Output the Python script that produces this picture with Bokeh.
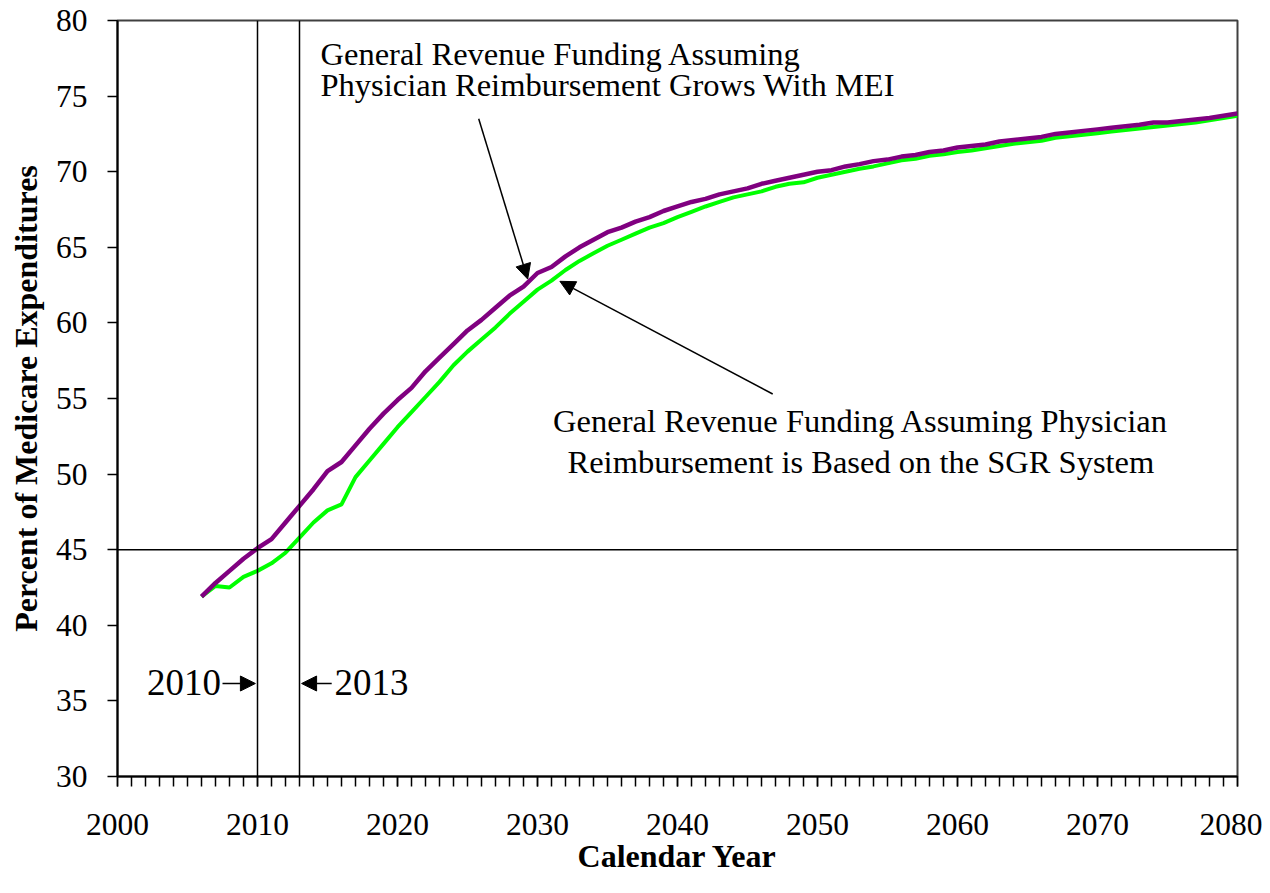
from bokeh.plotting import figure
from bokeh.models import Span, Arrow, NormalHead, Label, SingleIntervalTicker, Range1d
from bokeh.embed import file_html
from bokeh.resources import INLINE

years = list(range(2006, 2081))

mei_values = [41.9, 42.8, 43.6, 44.4, 45.1, 45.7, 46.8, 47.9, 49.0, 50.2,
              50.8, 51.9, 53.0, 54.0, 54.9, 55.7, 56.8, 57.7, 58.6, 59.5,
              60.2, 61.0, 61.8, 62.4, 63.3, 63.7, 64.4, 65.0, 65.5, 66.0,
              66.3, 66.7, 67.0, 67.4, 67.7, 68.0, 68.2, 68.5, 68.7, 68.9,
              69.2, 69.4, 69.6, 69.8, 70.0, 70.1, 70.35, 70.5, 70.7, 70.8,
              71.0, 71.1, 71.3, 71.4, 71.6, 71.7, 71.8, 72.0, 72.1, 72.2,
              72.3, 72.5, 72.6, 72.7, 72.8, 72.9, 73.0, 73.1, 73.25, 73.25,
              73.35, 73.45, 73.55, 73.7, 73.85]

sgr_values = [41.9, 42.6, 42.5, 43.2, 43.6, 44.1, 44.8, 45.8, 46.8, 47.6,
              48.0, 49.8, 50.9, 52.0, 53.1, 54.1, 55.1, 56.1, 57.2, 58.1,
              58.9, 59.7, 60.6, 61.4, 62.2, 62.8, 63.5, 64.1, 64.6, 65.1,
              65.5, 65.9, 66.3, 66.6, 67.0, 67.35, 67.7, 68.0, 68.3, 68.5,
              68.7, 69.0, 69.2, 69.3, 69.6, 69.8, 70.0, 70.2, 70.35, 70.55,
              70.75, 70.85, 71.05, 71.15, 71.3, 71.4, 71.55, 71.7, 71.85, 71.95,
              72.05, 72.25, 72.35, 72.45, 72.55, 72.65, 72.75, 72.85, 72.95, 73.05,
              73.15, 73.25, 73.4, 73.55, 73.7]

marker_years = [2010, 2013]
threshold = 45

label_mei = ["General Revenue Funding Assuming",
             "Physician Reimbursement Grows With MEI"]
label_sgr = ["General Revenue Funding Assuming Physician",
             "Reimbursement is Based on the SGR System"]

FONT = "Liberation Serif"

p = figure(width=1262, height=885, output_backend="svg", toolbar_location=None,
           x_range=Range1d(2000, 2080), y_range=Range1d(30, 80),
           min_border_left=117, min_border_right=25, min_border_top=20,
           min_border_bottom=109)

p.xgrid.visible = False
p.ygrid.visible = False
p.outline_line_color = "#404040"
p.outline_line_width = 2
p.background_fill_color = "white"
p.border_fill_color = "white"

# x axis
p.xaxis.ticker = SingleIntervalTicker(interval=10, num_minor_ticks=10)
p.xaxis.major_tick_out = 10
p.xaxis.major_tick_in = 0
p.xaxis.minor_tick_out = 10
p.xaxis.minor_tick_in = 0
p.xaxis.minor_tick_line_color = "black"
p.xaxis.minor_tick_line_width = 1.5
p.xaxis.major_label_standoff = 27
p.xaxis.axis_label = "Calendar Year"
p.xaxis.axis_label_standoff = 0

# y axis
p.yaxis.ticker = SingleIntervalTicker(interval=5, num_minor_ticks=0)
p.yaxis.major_tick_out = 10
p.yaxis.major_tick_in = 0
p.yaxis.minor_tick_line_color = None
p.yaxis.major_label_standoff = 20
p.yaxis.axis_label = "Percent of Medicare Expenditures"
p.yaxis.axis_label_standoff = 9

for axes in (p.xaxis, p.yaxis):
    axes.axis_line_color = "black"
    axes.axis_line_width = 2
    axes.major_tick_line_color = "black"
    axes.major_tick_line_width = 1.5
    axes.major_label_text_font = FONT
    axes.major_label_text_font_size = "31.5px"
    axes.major_label_text_font_style = "normal"
    axes.major_label_text_color = "black"
    axes.axis_label_text_font = FONT
    axes.axis_label_text_font_size = "32px"
    axes.axis_label_text_font_style = "bold"
    axes.axis_label_text_color = "black"

# reference lines
p.add_layout(Span(location=threshold, dimension="width", line_color="black", line_width=1.5))
for yr in marker_years:
    p.add_layout(Span(location=yr, dimension="height", line_color="black", line_width=1.5))

# series
p.line(years, sgr_values, line_color="#00FF00", line_width=4)
p.line(years, mei_values, line_color="#800080", line_width=4.5)

def lab(x, y, text, align, size="32.5px"):
    p.add_layout(Label(x=x, y=y, text=text, text_font=FONT, text_font_size=size,
                       text_color="black", text_align=align,
                       text_baseline="alphabetic"))

lab(2014.5, 77.8, label_mei[0], "left")
lab(2014.5, 75.75, label_mei[1], "left")
lab(2053.1, 53.5, label_sgr[0], "center")
lab(2053.1, 50.8, label_sgr[1], "center")
lab(2007.4, 36.25, str(marker_years[0]), "right", "37px")
lab(2015.5, 36.25, str(marker_years[1]), "left", "37px")

def head():
    return NormalHead(size=15, fill_color="black", line_color="black", line_width=1)

p.add_layout(Arrow(end=head(), x_start=2007.5, y_start=36.15, x_end=2009.85, y_end=36.15,
                   line_color="black", line_width=1.5))
p.add_layout(Arrow(end=head(), x_start=2015.3, y_start=36.15, x_end=2013.15, y_end=36.15,
                   line_color="black", line_width=1.5))
p.add_layout(Arrow(end=head(), x_start=2025.8, y_start=73.5, x_end=2029.3, y_end=62.9,
                   line_color="black", line_width=1.5))
p.add_layout(Arrow(end=head(), x_start=2046.8, y_start=55.3, x_end=2031.6, y_end=62.75,
                   line_color="black", line_width=1.5))

open("out.html", "w").write(file_html(p, INLINE))
